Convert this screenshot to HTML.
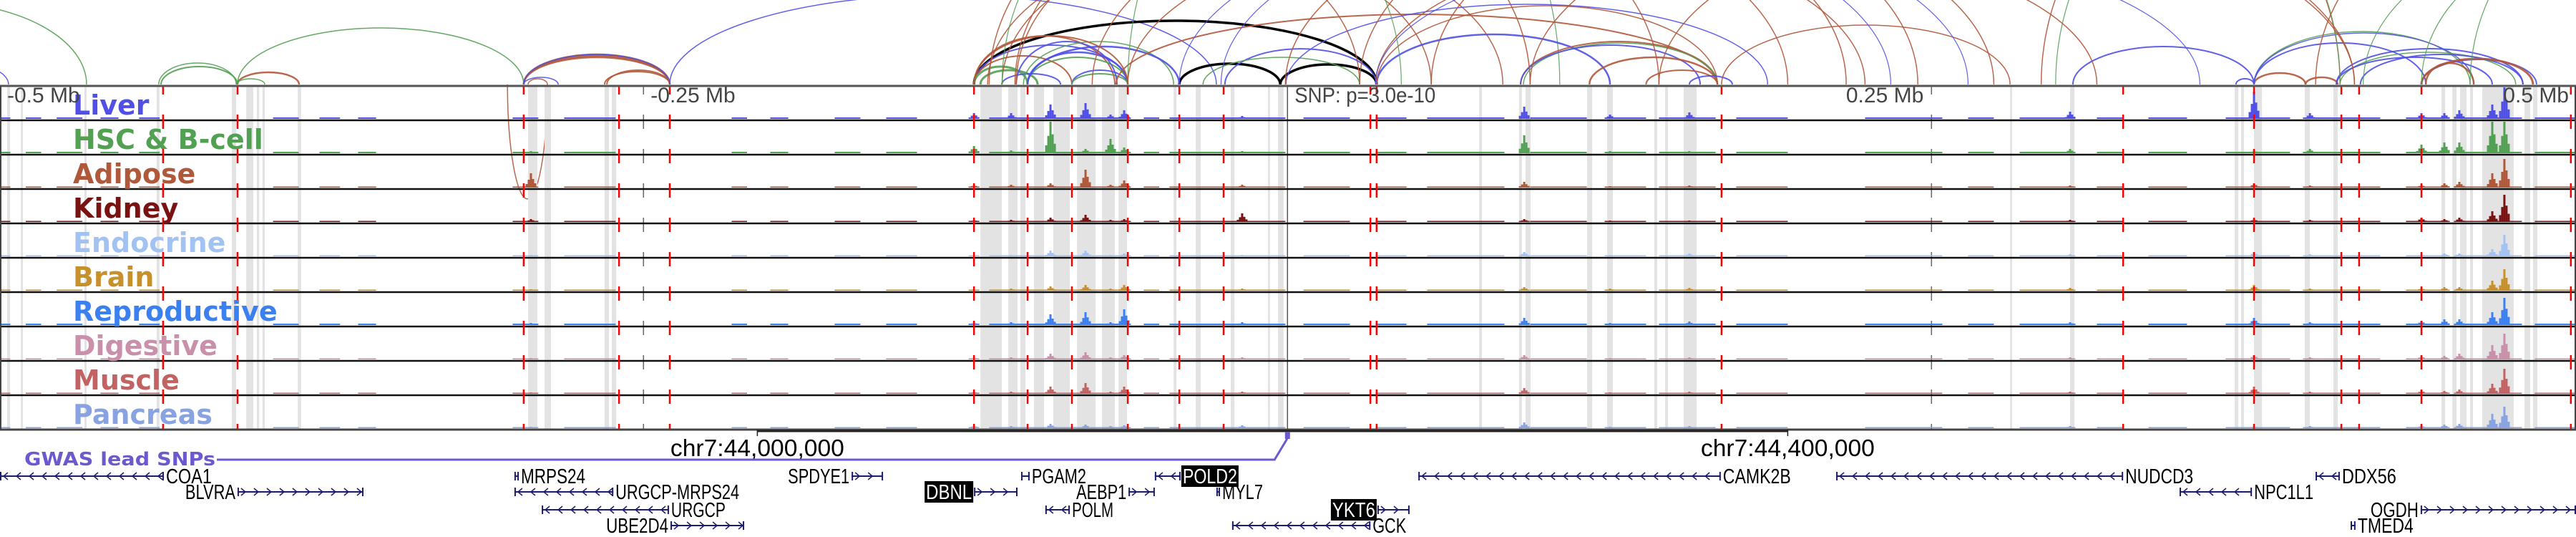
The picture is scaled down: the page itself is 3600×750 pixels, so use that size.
<!DOCTYPE html>
<html><head><meta charset="utf-8">
<style>
html,body{margin:0;padding:0;background:#fff;}
svg{display:block;}
</style></head>
<body>
<svg id="chart" xmlns="http://www.w3.org/2000/svg" width="3600" height="750" viewBox="0 0 3600 750"></svg>
<script>
// ---------- data (genomic positions in kb) ----------
const regionStart = 43706;
const regionEnd = 44706;
const snpPos = 44205.8;
const snpLabel = "SNP: p=3.0e-10";
const tracks = ["Liver","HSC & B-cell","Adipose","Kidney","Endocrine","Brain","Reproductive","Digestive","Muscle","Pancreas"];
const trackColors = ["#5050e6","#52a052","#b0583a","#7a1212","#a2c2f2","#c8902a","#3a80f0","#c890aa","#c26262","#88a2e2"];
const redLines = [43769.3,43798.2,43909.3,43946.3,43966,44084.1,44104.9,44122.1,44143.8,44163.8,44181,44238,44240.4,44374.3,44530.2,44581,44614.9,44621.8,44646,44704];
const bandStart = [43708.8,43714.1,43738.8,43766.8,43796,43801.6,43805.7,43807.9,43821.6,43911,43917.4,43940.7,43943.5,44086.6,44097.4,44102.1,44107.4,44114.9,44124.1,44133.8,44140.2,44161.6,44170.2,44183.8,44198.2,44202.1,44280.2,44295.7,44298.2,44322.1,44329.9,44348.2,44352.4,44359.6,44486.3,44509.6,44573.5,44576,44581,44600.7,44611.8,44653.8,44658,44661,44664.9,44669.6,44686,44689.3];
const bandEnd   = [43709.9,43714.9,43739.6,43767.9,43797.7,43804.3,43806.6,43808.8,43822.9,43914.6,43919.9,43942.4,43945.2,44094.9,44101,44104.1,44111.3,44121.3,44131.3,44138.8,44143.5,44162.7,44172.1,44185.2,44199,44204.3,44281.3,44296.8,44300.2,44324.1,44332.1,44349.3,44353.5,44364.6,44487.1,44511.3,44574.9,44577.1,44584.1,44602.7,44613.5,44655.2,44659.6,44663.5,44666,44681.8,44688.2,44691];
const baseStart = [43706,43716,43728,43745,43760,43812,43830,43845,43905,43925,43990,44005,44030,44050,44090,44150,44160,44212,44240,44260,44300,44330,44350,44380,44430,44470,44490,44520,44540,44570,44600,44640,44660,44690];
const baseEnd   = [43710,43722,43738,43752,43768,43822,43838,43852,43915,43945,43996,44012,44040,44062,44145,44156,44205,44230,44252,44290,44322,44345,44372,44400,44460,44480,44510,44530,44555,44595,44630,44655,44685,44706];
const peakPos = [43912.1,44098.5,44113.8,44127.4,44137.1,44142.4,44188.2,44297.7,44331,44361.8,44509.6,44581,44602.7,44654.9,44660.7,44673.5,44678.2,44084.1,44646];
const peakLiver = [2,8,20,22,6,12,4,17,6,9,10,38,8,8,12,20,44,8,8];
const peakHSC = [3,4,45,6,20,8,3,25,3,3,6,4,6,15,15,44,44,10,12];
const peakAdipose = [20,4,6,25,4,10,4,8,2,3,3,6,3,6,8,20,40,4,4];
const peakKidney = [4,3,6,10,3,4,12,4,2,2,3,4,3,4,6,15,38,3,6];
const peakEndocrine = [2,2,8,8,2,4,2,6,2,4,3,6,3,4,4,10,30,2,3];
const peakBrain = [2,3,6,8,3,8,3,5,3,4,4,8,3,5,5,14,30,2,4];
const peakReproductive = [3,4,15,18,4,22,4,10,3,5,4,10,4,8,8,18,38,4,6];
const peakDigestive = [2,3,8,10,3,6,3,6,2,3,3,6,3,5,8,20,36,3,5];
const peakMuscle = [2,3,10,15,3,10,3,8,2,3,3,10,3,4,6,14,35,3,5];
const peakPancreas = [2,3,6,5,3,4,4,8,2,3,3,3,3,5,6,20,30,4,4];
const baseLevels = [2,2,1.5,1.5,1.5,1.5,2,1.5,1.5,1.5];
// arcs: start kb, end kb, height, colour key, weight
const arcStart = [43622.7,43678,43768.5,43767.6,43798.2,43797.8,43798.2,43909.3,43909.3,43909.3,43909.3,43941.6,43940.7,43909.3,43911,43918.5,43966,44084.1,44163.8,44203,44084.1,44084.1,44084.1,44086.6,44084.1,44104.9,44104.9,44094.9,44122.1,44122.1,44100.5,44103.3,44104.9,44084.1,44089.4,44095,44100.5,44139.3,44143.8,44181.5,44173,44205.2,44240.4,44240.4,44296.3,44297.4,44296.3,44323,44345,44361.8,44233.8,44261.6,44374.3,44510.7,44574,44581,44601,44581,44581,44581,44613,44614.4,44613,44622.3,44646,44646,44647.7,44498.4,44504,44623.4,44646,44664.9,44604.9,44090,44100,44130,44205,44240,44180,44240,44300,44350,44095,44143.8,44163.8];
const arcEnd   = [43739.6,43709.3,43798.2,43797.7,43822.1,43808.8,43909.3,43966,43966,43966,43966,43966,43966,43922.7,43918.5,43903,44178.2,44240.4,44203,44240.4,44143.8,44122.1,44104.9,44108.8,44138.8,44143.8,44143.8,44117.7,44143.8,44143.8,44139.6,44161.6,44163.8,44143.8,44289.4,44261.6,44233.8,44372.7,44311.5,44240.4,44233.8,44392.2,44331,44372.7,44372.7,44372.7,44366,44372.7,44372.7,44378.5,44450.5,44422.7,44486.3,44581,44581,44601,44613.5,44664.9,44666.3,44647.7,44685.4,44682.6,44673.5,44685.4,44690.7,44689.3,44666.3,44614.4,44614.4,44814,44781.8,44792.9,44820,44300,44350,44400,44480,44520,44440,44560,44620,44620,44250,44430,44470];
const arcHeight= [115,28,25,30,17,8,79,38,40,42,42,20,18,10,8,160,125,89,29,28,55,40,25,20,68,38,45,15,20,15,60,60,53,68,200,190,200,98,400,50,38,112,70,110,60,58,55,38,20,12,250,220,83,53,8,16,10,74,72,58,50,45,38,42,35,36,30,280,280,220,200,260,300,300,300,260,250,200,230,200,260,230,300,220,240];
const arcColor = ["g","b","g","g","r","g","g","r","r","r","b","r","r","b","r","r","b","k","k","k","b","r","g","g","r","g","b","b","b","g","b","g","b","r","r","r","r","r","g","b","g","b","b","r","r","g","b","r","r","b","r","r","r","b","b","r","r","g","b","b","b","g","b","b","b","r","r","r","g","g","g","g","r","r","r","r","r","r","b","b","r","r","g","r","b"];
const arcWeight= [1.5,1.5,2,1.5,2.5,1.5,1.5,2.5,2.5,2.5,1.5,2,2,1.5,1.5,1.5,1.5,3.5,3.5,3.5,2,2,3,3,2,2,2.5,2,2,2,2,1.5,2.5,2,1.5,1.5,1.5,2,1.2,2,1.5,1.5,2.5,1.5,2,1.5,2,2.5,2,2,1.5,1.5,1.5,2,2,2.5,2.5,1.5,1.5,2,2,1.5,2,2,2,3,2.5,1.5,1.2,1.2,1.2,1.2,1.5,1.5,1.5,1.5,1.5,1.5,1.2,1.2,1.5,1.5,1.2,1.5,1.2];
// genes
const geneNames = ["COA1","BLVRA","MRPS24","URGCP-MRPS24","URGCP","UBE2D4","SPDYE1","PGAM2","POLD2","DBNL","AEBP1","MYL7","POLM","YKT6","GCK","CAMK2B","NUDCD3","DDX56","NPC1L1","OGDH","TMED4"];
const geneStart = [43706,43798.2,43905.7,43905.7,43916.3,43966.3,44036.6,44102.4,44154.3,44084.1,44144.1,44178.2,44111.8,44240.7,44184.3,44256.6,44418.8,44604.9,44552.1,44645.7,44618.5];
const geneEnd   = [43769.6,43847.1,43907.4,43944.1,43965.7,43994.9,44048.8,44105.7,44164.3,44101,44154.3,44179.6,44121.3,44253.2,44238,44374,44530.2,44614.3,44580.2,44706,44620.4];
const geneStrand= [-1,1,-1,-1,-1,1,1,-1,-1,1,1,-1,-1,1,-1,-1,-1,-1,-1,1,-1];
const geneRow   = [0,1,0,1,2,3,0,0,0,1,1,1,2,2,3,0,0,0,1,2,3];
const geneLabelSide = ["R","L","R","R","R","L","L","R","R","L","L","R","R","L","R","R","R","R","R","L","R"];
const geneBoxed = [0,0,0,0,0,0,0,0,1,1,0,0,0,1,0,0,0,0,0,0,0];
const geneLabelW = [64,70,90,173,76,87,86,76,76,64,70,57,58,60,47,95,95,76,83,67,78];
const axisTicks = [44000,44400];
const axisTickLabels = ["chr7:44,000,000","chr7:44,400,000"];
const relTicks = [-500,-250,250,500];
const relTickLabels = ["-0.5 Mb","-0.25 Mb","0.25 Mb","0.5 Mb"];

// ---------- scales ----------
const W = 3600;
const x = kb => (kb - regionStart) / (regionEnd - regionStart) * W;
const panelTop = 120, trackH = 48;
const NS = "http://www.w3.org/2000/svg";
const svg = document.getElementById("chart");
function el(tag, attrs, parent) {
  const e = document.createElementNS(NS, tag);
  for (const k in attrs) e.setAttribute(k, attrs[k]);
  (parent || svg).appendChild(e);
  return e;
}
const colMap = {g:"#52a052", b:"#5050e6", r:"#b0583a", k:"#000000"};
const peaks = [peakLiver,peakHSC,peakAdipose,peakKidney,peakEndocrine,peakBrain,peakReproductive,peakDigestive,peakMuscle,peakPancreas];

// ---------- arcs ----------
const arcG = el("g", {});


const arcBase = 118;
for (let i = 0; i < arcStart.length; i++) {
  const x1 = x(arcStart[i]), x2 = x(arcEnd[i]);
  const rx = Math.abs(x2 - x1) / 2, h = arcHeight[i];
  const p = el("path", {d:`M${x1} ${arcBase} A${rx} ${h} 0 0 1 ${x2} ${arcBase}`, fill:"none", stroke:colMap[arcColor[i]], "stroke-width":arcWeight[i], opacity: arcColor[i]==="k"?1:0.9}, arcG);
  
  
}

// ---------- track panel ----------
const panel = el("g", {});


for (let i = 0; i < bandStart.length; i++) {
  const r = el("rect", {x:x(bandStart[i]), y:panelTop, width:Math.max(2, x(bandEnd[i])-x(bandStart[i])), height:trackH*10, fill:"#e3e3e3"}, panel);
  
  
}
relTicks.forEach(t => {
  const l = el("line", {x1:x(snpPos+t), x2:x(snpPos+t), y1:panelTop, y2:panelTop+trackH*10, stroke:"#666", "stroke-width":1.5, "stroke-dasharray":"20 28", "stroke-dashoffset":"8"}, panel);
  
  
});
const snpLine = el("line", {x1:x(snpPos), x2:x(snpPos), y1:panelTop, y2:panelTop+trackH*10, stroke:"#555", "stroke-width":1.5}, panel);



for (let t = 0; t < tracks.length; t++) {
  const top = panelTop + t*trackH, bottom = top + trackH - 2;
  const g = el("g", {fill:trackColors[t]}, panel);
  
  
  for (let s = 0; s < baseStart.length; s++) {
    const r = el("rect", {x:x(baseStart[s]), y:bottom-baseLevels[t], width:x(baseEnd[s])-x(baseStart[s]), height:baseLevels[t]}, g);
    
    
  }
  const vals = peaks[t];
  for (let p = 0; p < peakPos.length; p++) {
    const cx = x(peakPos[p]), h = Math.min(vals[p], trackH-4);
    const parts = [[-6,0.25],[-3,0.55],[0,1],[3,0.6],[6,0.3]];
    parts.forEach(pp => {
      const hh = Math.max(baseLevels[t], h*pp[1]);
      const r = el("rect", {x:cx+pp[0]-1.5, y:bottom-hh, width:3, height:hh}, g);
      
      
    });
  }
  const sep = el("line", {x1:0, x2:W, y1:top+trackH, y2:top+trackH, stroke:"#111", "stroke-width":2.5}, panel);
  
  
}
redLines.forEach(r => {
  const l = el("line", {x1:x(r), x2:x(r), y1:panelTop, y2:panelTop+trackH*10, stroke:"#ff0000", "stroke-width":2.5, "stroke-dasharray":"20 28", "stroke-dashoffset":"8"}, panel);
  
  
});
const topBorder = el("line", {x1:0, x2:W, y1:panelTop, y2:panelTop, stroke:"#555", "stroke-width":3}, panel);


const botBorder = el("line", {x1:0, x2:W, y1:panelTop+trackH*10, y2:panelTop+trackH*10, stroke:"#444", "stroke-width":3}, panel);


const lb = el("line", {x1:1, x2:1, y1:panelTop, y2:panelTop+trackH*10, stroke:"#444", "stroke-width":2}, panel);


const rb = el("line", {x1:W-1, x2:W-1, y1:panelTop, y2:panelTop+trackH*10, stroke:"#444", "stroke-width":2}, panel);



// track labels
for (let t = 0; t < tracks.length; t++) {
  const tx = el("text", {x:102, y:panelTop + t*trackH + 40, fill:trackColors[t], "font-family":"DejaVu Sans, sans-serif", "font-weight":"bold", "font-size":"38"}, svg);
  tx.textContent = tracks[t];
  
  
}
// relative tick labels
const relAnchor = ["start","start","end","end"];
const relOffset = [0, 10, -11, 0];
relTicks.forEach((t, i) => {
  let px = x(snpPos+t) + relOffset[i];
  if (i === 0) px = 10;
  if (i === 3) px = 3590;
  const tx = el("text", {x:px, y:143, fill:"#444", "font-family":"Liberation Sans Narrow, Liberation Sans, sans-serif", "font-size":"30", "text-anchor":relAnchor[i]}, svg);
  tx.textContent = relTickLabels[i];
  
  
});
const snpTx = el("text", {x:x(snpPos)+10, y:143, fill:"#444", "font-family":"Liberation Sans Narrow, Liberation Sans, sans-serif", "font-size":"30", textLength:"197", lengthAdjust:"spacingAndGlyphs"}, svg);
snpTx.textContent = snpLabel;



// ---------- genomic axis ----------
const axisLine = el("line", {x1:x(axisTicks[0]), x2:x(axisTicks[1]), y1:602, y2:602, stroke:"#222", "stroke-width":3});


axisTicks.forEach((t, i) => {
  const l = el("line", {x1:x(t), x2:x(t), y1:600, y2:609, stroke:"#222", "stroke-width":1.5});
  
  
  const tx = el("text", {x:x(t), y:637, "text-anchor":"middle", fill:"#000", "font-family":"Liberation Sans Narrow, Liberation Sans, sans-serif", "font-size":"33", textLength:"243", lengthAdjust:"spacingAndGlyphs"});
  tx.textContent = axisTickLabels[i];
  
  
});

// ---------- GWAS ----------
const gwasTx = el("text", {x:34, y:650, fill:"#6a5acd", "font-family":"DejaVu Sans, sans-serif", "font-weight":"bold", "font-size":"26", textLength:"267", lengthAdjust:"spacingAndGlyphs"});
gwasTx.textContent = "GWAS lead SNPs";


const gwasLine = el("polyline", {points:`303,642 ${x(snpPos)-18},642 ${x(snpPos)},612`, fill:"none", stroke:"#6a5acd", "stroke-width":3});


const gwasMark = el("rect", {x:x(snpPos)-3.5, y:603, width:7, height:10, fill:"#6a5acd"});



// ---------- genes ----------
const rowY = [665, 687, 712, 734];
const navy = "#1c1c6e";
for (let i = 0; i < geneNames.length; i++) {
  const g = el("g", {});
  
  
  const x1 = x(geneStart[i]), x2 = x(geneEnd[i]), y = rowY[geneRow[i]];
  el("line", {x1:x1, x2:x2, y1:y, y2:y, stroke:navy, "stroke-width":2}, g);
  for (let cx = x1 + 8; cx < x2 - 4; cx += 18) {
    const d = geneStrand[i] > 0 ? `M${cx-3} ${y-5} L${cx+3} ${y} L${cx-3} ${y+5}` : `M${cx+3} ${y-5} L${cx-3} ${y} L${cx+3} ${y+5}`;
    el("path", {d:d, fill:"none", stroke:navy, "stroke-width":1.5}, g);
  }
  el("rect", {x:x1, y:y-6, width:2, height:12, fill:navy}, g);
  el("rect", {x:x2-2, y:y-6, width:2, height:12, fill:navy}, g);
  const lw = geneLabelW[i];
  let tx0 = geneLabelSide[i] === "R" ? x2 + 3 : x1 - 3 - lw;
  if (geneBoxed[i]) {
    el("rect", {x:tx0-2, y:y-15, width:lw+4, height:30, fill:"#000"}, g);
  }
  const tx = el("text", {x:tx0, y:y+10, fill:geneBoxed[i] ? "#fff" : "#000", "font-family":"Liberation Sans Narrow, Liberation Sans, sans-serif", "font-size":29, textLength:lw, lengthAdjust:"spacingAndGlyphs"}, g);
  tx.textContent = geneNames[i];
  
  
}
</script>
</body></html>
